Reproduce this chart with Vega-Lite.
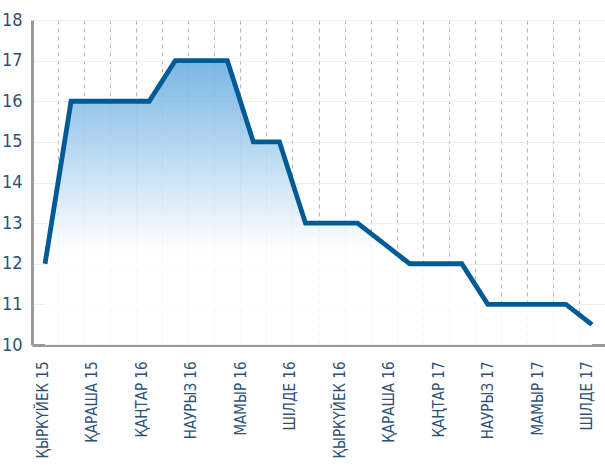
{
  "$schema": "https://vega.github.io/schema/vega-lite/v6.json",
  "autosize": {"type": "none"},
  "padding": {"left": 32, "top": 20, "right": 0, "bottom": 120},
  "width": 573,
  "height": 325,
  "background": "#ffffff",
  "config": {
    "view": {"stroke": null},
    "font": "DejaVu Sans Condensed, Roboto, sans-serif",
    "axis": {"labelFont": "DejaVu Sans Condensed, Roboto, sans-serif", "labelColor": "#2f5178"}
  },
  "data": {
    "values": [
      {"i": 0, "v": 12}, {"i": 1, "v": 16}, {"i": 2, "v": 16}, {"i": 3, "v": 16},
      {"i": 4, "v": 16}, {"i": 5, "v": 17}, {"i": 6, "v": 17}, {"i": 7, "v": 17},
      {"i": 8, "v": 15}, {"i": 9, "v": 15}, {"i": 10, "v": 13}, {"i": 11, "v": 13},
      {"i": 12, "v": 13}, {"i": 13, "v": 12.5}, {"i": 14, "v": 12}, {"i": 15, "v": 12},
      {"i": 16, "v": 12}, {"i": 17, "v": 11}, {"i": 18, "v": 11}, {"i": 19, "v": 11},
      {"i": 20, "v": 11}, {"i": 21, "v": 10.5}
    ]
  },
  "resolve": {"axis": {"x": "independent"}},
  "layer": [
    {
      "mark": {
        "type": "area",
        "fillOpacity": 0.88,
        "color": {
          "gradient": "linear", "x1": 0, "y1": 0, "x2": 0, "y2": 1,
          "stops": [
            {"offset": 0, "color": "#66ace0"},
            {"offset": 0.67, "color": "#ffffff"}
          ]
        }
      },
      "encoding": {
        "x": {
          "field": "i", "type": "quantitative",
          "scale": {"domain": [-0.5, 21.5], "nice": false, "zero": false},
          "axis": {
            "orient": "bottom",
            "title": null,
            "values": [0.5, 1.5, 2.5, 3.5, 4.5, 5.5, 6.5, 7.5, 8.5, 9.5, 10.5, 11.5, 12.5, 13.5, 14.5, 15.5, 16.5, 17.5, 18.5, 19.5, 20.5],
            "grid": true, "gridDash": [4, 4], "gridColor": "#b5b5b5", "gridWidth": 1,
            "labels": false, "ticks": false,
            "domain": true, "domainColor": "#9a9a9a", "domainWidth": 3
          }
        },
        "y": {
          "field": "v", "type": "quantitative",
          "scale": {"domain": [10, 18], "nice": false, "zero": false},
          "axis": {
            "title": null,
            "values": [10, 11, 12, 13, 14, 15, 16, 17, 18],
            "grid": true, "gridColor": "#eeeeee", "gridWidth": 1,
            "ticks": false, "labelPadding": 10, "labelFontSize": 18,
            "domain": true, "domainColor": "#9a9a9a", "domainWidth": 3
          }
        },
        "y2": {"datum": 10}
      }
    },
    {
      "mark": {"type": "line", "color": "#005a96", "strokeWidth": 4.8, "strokeJoin": "miter"},
      "encoding": {
        "x": {
          "field": "i", "type": "quantitative",
          "axis": {
            "orient": "bottom",
            "title": null,
            "values": [-0.1, 1.8, 3.7, 5.6, 7.5, 9.4, 11.3, 13.2, 15.1, 17.0, 18.9, 20.8],
            "labelExpr": "['ҚЫРКҮЙЕК 15','ҚАРАША 15','ҚАҢТАР 16','НАУРЫЗ 16','МАМЫР 16','ШІЛДЕ 16','ҚЫРКҮЙЕК 16','ҚАРАША 16','ҚАҢТАР 17','НАУРЫЗ 17','МАМЫР 17','ШІЛДЕ 17'][round((datum.value + 0.1) / 1.9)]",
            "labelAngle": 270, "labelFontSize": 15, "labelPadding": 16,
            "grid": false, "ticks": false, "domain": false,
            "labelOverlap": false, "labelBound": false, "labelFlush": false
          }
        },
        "y": {"field": "v", "type": "quantitative"}
      }
    }
  ]
}
